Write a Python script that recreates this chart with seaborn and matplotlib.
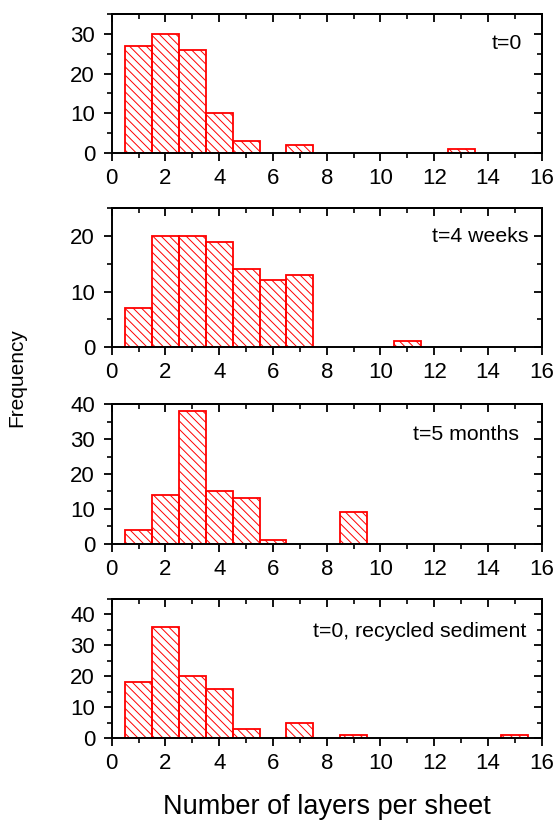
import numpy as np
import pandas as pd
import seaborn as sns
import matplotlib
matplotlib.use("Agg")
import matplotlib.pyplot as plt
from matplotlib.ticker import MultipleLocator

# ---- data ----
layers_t0 = [1, 2, 3, 4, 5, 7, 13]
counts_t0 = [27, 30, 26, 10, 3, 2, 1]

layers_4w = [1, 2, 3, 4, 5, 6, 7, 11]
counts_4w = [7, 20, 20, 19, 14, 12, 13, 1]

layers_5m = [1, 2, 3, 4, 5, 6, 9]
counts_5m = [4, 14, 38, 15, 13, 1, 9]

layers_rec = [1, 2, 3, 4, 5, 7, 9, 15]
counts_rec = [18, 36, 20, 16, 3, 5, 1, 1]

panel_labels = ["t=0", "t=4 weeks", "t=5 months", "t=0, recycled sediment"]
y_max = [35, 25, 40, 45]
x_ticks = [0, 2, 4, 6, 8, 10, 12, 14, 16]

sns.set_style("ticks")
plt.rcParams["font.family"] = ["Liberation Sans", "DejaVu Sans"]
plt.rcParams["hatch.linewidth"] = 0.7
plt.rcParams["hatch.color"] = "red"
plt.rcParams["text.color"] = "black"
plt.rcParams["axes.labelcolor"] = "black"
plt.rcParams["xtick.color"] = "black"
plt.rcParams["ytick.color"] = "black"

fig = plt.figure(figsize=(5.57, 8.22), dpi=100)

W = 557.0
H = 822.0
left = 111.7 / W
width = 430.0 / W
panel_px = [(14, 153), (208.3, 347), (404.3, 543.7), (599, 738)]

series = [(layers_t0, counts_t0), (layers_4w, counts_4w),
          (layers_5m, counts_5m), (layers_rec, counts_rec)]
text_pos = [(0.953, 0.79), (0.969, 0.80), (0.948, 0.78), (0.965, 0.765)]

tick_fs = 16
for i, ((lay, cnt), (top, bot)) in enumerate(zip(series, panel_px)):
    ax = fig.add_axes([left, 1 - bot / H, width, (bot - top) / H])
    df = pd.DataFrame({"layers": lay, "count": cnt})
    sns.histplot(data=df, x="layers", weights="count", discrete=True, ax=ax,
                 facecolor="none", edgecolor="red", linewidth=1.3,
                 hatch="\\\\\\\\")
    for p in list(ax.patches):
        if p.get_height() == 0:
            p.remove()
        else:
            p.set_facecolor("none")
            p.set_edgecolor("red")
            p.set_hatch("\\\\\\\\")
    ax.set_xlim(0, 16)
    ax.set_ylim(0, y_max[i])
    ax.set_xticks(x_ticks)
    ax.xaxis.set_minor_locator(MultipleLocator(1))
    ax.yaxis.set_major_locator(MultipleLocator(10))
    ax.yaxis.set_minor_locator(MultipleLocator(5))
    ax.set_xlabel("")
    ax.set_ylabel("")
    for s in ax.spines.values():
        s.set_visible(True)
        s.set_linewidth(1.4)
        s.set_color("black")
        s.set_zorder(3)
    ax.tick_params(which="major", direction="out", length=6, width=1.3,
                   labelsize=tick_fs, colors="black", labelcolor="black")
    ax.tick_params(axis="x", which="major", pad=5)
    ax.tick_params(axis="y", which="major", pad=6)
    ax.tick_params(which="minor", direction="out", length=3.5, width=1.2,
                   colors="black")
    # mirrored inward ticks on top and right
    sx = ax.secondary_xaxis("top")
    sx.set_xticks(x_ticks)
    sx.xaxis.set_minor_locator(MultipleLocator(1))
    sx.tick_params(which="major", direction="in", length=6, width=1.3,
                   labeltop=False, colors="black")
    sx.tick_params(which="minor", direction="in", length=3.5, width=1.2,
                   colors="black")
    sx.spines["top"].set_linewidth(1.4)
    sx.spines["top"].set_color("black")
    sy = ax.secondary_yaxis("right")
    sy.yaxis.set_major_locator(MultipleLocator(10))
    sy.yaxis.set_minor_locator(MultipleLocator(5))
    sy.tick_params(which="major", direction="in", length=6, width=1.3,
                   labelright=False, colors="black")
    sy.tick_params(which="minor", direction="in", length=3.5, width=1.2,
                   colors="black")
    sy.spines["right"].set_linewidth(1.4)
    sy.spines["right"].set_color("black")

    tx, ty = text_pos[i]
    ax.text(tx, ty, panel_labels[i], transform=ax.transAxes, ha="right",
            va="center", fontsize=15.3, color="black")

fig.text(17 / W, 1 - 378 / H, "Frequency", rotation=90, ha="center",
         va="center", fontsize=15, color="black")
fig.text(327 / W, 1 - 807 / H, "Number of layers per sheet", ha="center",
         va="center", fontsize=19.5, color="black")

fig.savefig("out.png", dpi=100)
